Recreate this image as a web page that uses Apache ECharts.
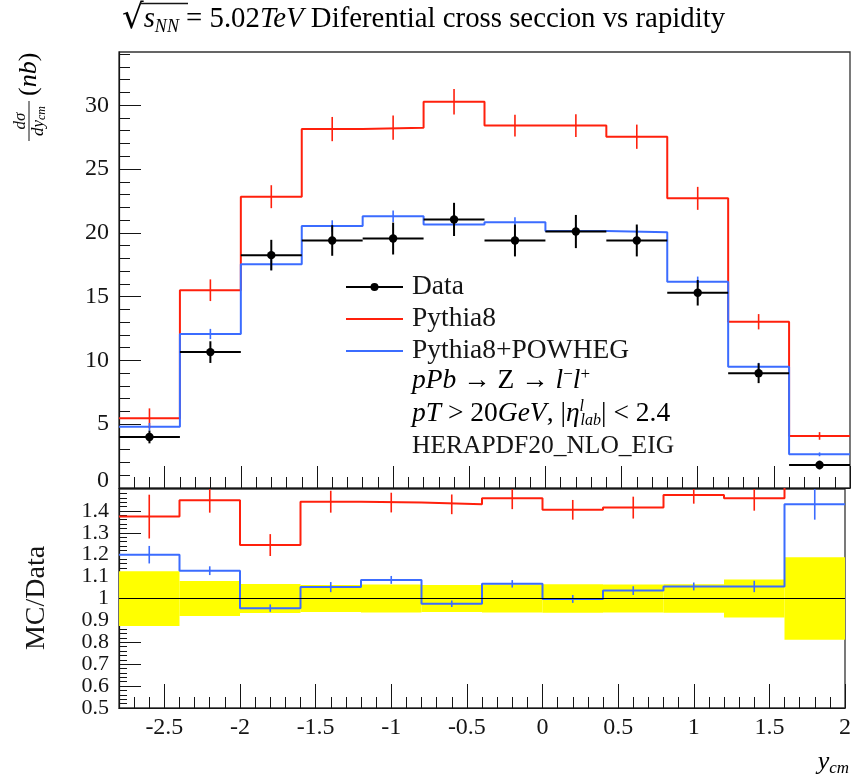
<!DOCTYPE html>
<html><head><meta charset="utf-8">
<script src="https://cdn.jsdelivr.net/npm/echarts@6/dist/echarts.min.js"></script>
<style>html,body{margin:0;padding:0;background:#fff}#c{width:854px;height:776px}</style>
</head><body><div id="c"></div>
<script>
// ---------------- data ----------------
const binEdges   = [-2.8,-2.4,-2.0,-1.6,-1.2,-0.8,-0.4,0.0,0.4,0.8,1.2,1.6,2.0];
const binCenters = [-2.6,-2.2,-1.8,-1.4,-1.0,-0.6,-0.2,0.2,0.6,1.0,1.4,1.8];

const dataVals = [4.0,10.65,18.25,19.4,19.55,21.05,19.4,20.1,19.4,15.3,9.0,1.8];
const dataErr  = [0.5,0.85,1.2,1.2,1.25,1.3,1.25,1.3,1.25,1.0,0.78,0.34];

const pythia8    = [5.46,15.5,22.83,28.13,28.24,30.28,28.4,28.4,27.53,22.7,13.03,4.08];
const pythia8Err = [0.78,0.85,0.9,0.95,0.95,1.0,0.85,0.9,0.95,0.9,0.6,0.3];

const powheg    = [4.8,12.07,17.53,20.53,21.3,20.66,20.82,20.14,20.04,16.17,9.51,2.64];
const powhegErr = [0.3,0.4,0.45,0.45,0.45,0.45,0.4,0.45,0.45,0.4,0.3,0.15];

const pythia8Ratio    = [1.374,1.449,1.244,1.442,1.438,1.43,1.458,1.405,1.415,1.473,1.458,2.27];
const pythia8RatioErr = [0.1,0.057,0.05,0.05,0.045,0.045,0.05,0.045,0.05,0.04,0.057,0.2];

const powhegRatio    = [1.2,1.127,0.956,1.052,1.085,0.976,1.067,0.998,1.036,1.055,1.055,1.43];
const powhegRatioErr = [0.04,0.02,0.017,0.023,0.018,0.015,0.017,0.018,0.02,0.018,0.026,0.07];

const xMajorTicks = [-2.5,-2,-1.5,-1,-0.5,0,0.5,1,1.5,2];
const yTopTicks   = [0,5,10,15,20,25,30];
const yRatioTicks = [0.5,0.6,0.7,0.8,0.9,1,1.1,1.2,1.3,1.4];

// ---------------- styling ----------------
const FONT = 'Liberation Serif';
const RED = '#ff200c', BLUE = '#3b6cff', INK = '#151515';

const xMinor = []; for (let k=-27;k<=19;k++){ if (k%5!==0) xMinor.push(k/10); }
const yTopMinor = []; for (let k=1;k<=34;k++){ if (k%5!==0) yTopMinor.push(k); }
const yRatioMinor = []; for (let k=26;k<=74;k++){ if (k%5!==0) yRatioMinor.push(k/50); }

function stepData(vals){ return binEdges.map((e,i)=>[e, vals[Math.min(i, vals.length-1)]]); }

function errBars(name, xi, yi, vals, errs, color){
  return {
    type:'custom', name, xAxisIndex:xi, yAxisIndex:yi, clip:true, z:4, silent:true,
    data: binCenters.map((c,i)=>[c, vals[i], errs[i]]),
    renderItem(params, api){
      const x=api.value(0), y=api.value(1), e=api.value(2);
      const p1=api.coord([x,y-e]), p2=api.coord([x,y+e]);
      return {type:'line', shape:{x1:p1[0],y1:p1[1],x2:p2[0],y2:p2[1]}, style:{stroke:color, lineWidth:1.6}};
    }
  };
}
function stepLine(name, xi, yi, vals, color){
  return {type:'line', name, xAxisIndex:xi, yAxisIndex:yi, step:'end', symbol:'none', clip:true, silent:true, z:3,
    data: stepData(vals), lineStyle:{color, width:2}, itemStyle:{color}};
}

function xAxes(grid, showLabel, tickLen){
  return [{
    type:'value', gridIndex:grid, min:-2.8, max:2.0, position:'bottom',
    axisLine:{show:true, onZero:false, lineStyle:{color:INK, width:1.2}},
    axisTick:{show:true, inside:true, length:tickLen, customValues:xMajorTicks, lineStyle:{color:INK, width:1}},
    axisLabel:{show:showLabel, customValues:xMajorTicks, fontFamily:FONT, fontSize:24, color:INK, margin:8,
      showMinLabel:true, showMaxLabel:true, hideOverlap:false, formatter: v => String(v)},
    splitLine:{show:false}
  },{
    type:'value', gridIndex:grid, min:-2.8, max:2.0, position:'bottom',
    axisLine:{show:false, onZero:false}, axisLabel:{show:false}, splitLine:{show:false},
    axisTick:{show:true, inside:true, length:11, customValues:xMinor, lineStyle:{color:INK, width:1}}
  }];
}
function yAxes(grid, min, max, major, minor, majorLen, minorLen, labelFmt, rich, fs, lh){
  return [{
    type:'value', gridIndex:grid, min, max, position:'left',
    axisLine:{show:true, onZero:false, lineStyle:{color:INK, width:1.2}},
    axisTick:{show:true, inside:true, length:majorLen, customValues:major, lineStyle:{color:INK}},
    axisLabel:{customValues:major, fontFamily:FONT, fontSize:fs, lineHeight:lh, color:INK, margin:10,
      showMinLabel:true, showMaxLabel:true, hideOverlap:false, formatter:labelFmt, rich},
    splitLine:{show:false}
  },{
    type:'value', gridIndex:grid, min, max, position:'left',
    axisLine:{show:false, onZero:false}, axisLabel:{show:false}, splitLine:{show:false},
    axisTick:{show:true, inside:true, length:minorLen, customValues:minor, lineStyle:{color:INK}}
  }];
}

const txt = (extra) => Object.assign({fontFamily:FONT, fontSize:27.5, color:INK, lineHeight:30}, extra||{});

const option = {
  animation:false,
  backgroundColor:'#fff',
  grid:[
    {left:119, right:4, top:52, height:436, show:true, borderColor:'#333', borderWidth:1.3, backgroundColor:'transparent'},
    {left:119, right:4, top:489, height:219, show:true, borderColor:'#333', borderWidth:1.3, backgroundColor:'transparent'}
  ],
  xAxis: [].concat(xAxes(0,false,22), xAxes(1,true,24)),
  yAxis: [].concat(
    yAxes(0, 0, 34.17, yTopTicks, yTopMinor, 22, 11,
      v => v===0 ? '{up|0}' : String(v),
      {up:{fontFamily:FONT, fontSize:24, color:INK, padding:[0,0,14,0]}}, 24, 24),
    yAxes(1, 0.5, 1.5, yRatioTicks, yRatioMinor, 22, 8, v => String(v), undefined, 22, 16)
  ),
  legend:{
    left:340, top:267, orient:'vertical', itemGap:2, itemWidth:57, itemHeight:10, selectedMode:false,
    textStyle:{fontFamily:FONT, fontSize:27.5, color:INK, lineHeight:30, padding:[0,0,0,4]},
    data:[
      {name:'Data'},
      {name:'Pythia8', itemStyle:{opacity:0}},
      {name:'Pythia8+POWHEG', itemStyle:{opacity:0}}
    ]
  },
  series:[
    // legend representative for Data (no data of its own)
    {type:'line', name:'Data', xAxisIndex:0, yAxisIndex:0, data:[], symbol:'circle',
      lineStyle:{color:'#000', width:2}, itemStyle:{color:'#000'}},
    stepLine('Pythia8', 0, 0, pythia8, RED),
    errBars('Pythia8', 0, 0, pythia8, pythia8Err, RED),
    stepLine('Pythia8+POWHEG', 0, 0, powheg, BLUE),
    errBars('Pythia8+POWHEG', 0, 0, powheg, powhegErr, BLUE),
    {
      type:'custom', name:'Data', xAxisIndex:0, yAxisIndex:0, z:6, silent:true, clip:true,
      data: binCenters.map((c,i)=>[c, dataVals[i], dataErr[i], binEdges[i], binEdges[i+1]]),
      renderItem(params, api){
        const x=api.value(0), y=api.value(1), e=api.value(2);
        const c=api.coord([x,y]);
        const l=api.coord([api.value(3), y]), r=api.coord([api.value(4), y]);
        const lo=api.coord([x, y-e]), hi=api.coord([x, y+e]);
        return {type:'group', children:[
          {type:'line', shape:{x1:l[0],y1:l[1],x2:r[0],y2:r[1]}, style:{stroke:'#000', lineWidth:2}},
          {type:'line', shape:{x1:lo[0],y1:lo[1],x2:hi[0],y2:hi[1]}, style:{stroke:'#000', lineWidth:2}},
          {type:'circle', shape:{cx:c[0], cy:c[1], r:4.2}, style:{fill:'#000'}}
        ]};
      }
    },
    // ratio panel
    {
      type:'custom', name:'Data uncertainty', xAxisIndex:2, yAxisIndex:2, z:1, silent:true, clip:true,
      data: binCenters.map((c,i)=>[binEdges[i], binEdges[i+1], dataErr[i]/dataVals[i]]),
      renderItem(params, api){
        const rel=api.value(2);
        const a=api.coord([api.value(0), 1+rel]), b=api.coord([api.value(1), 1-rel]);
        return {type:'rect', shape:{x:a[0], y:a[1], width:b[0]-a[0], height:b[1]-a[1]}, style:{fill:'#ffff00'}};
      },
      markLine:{silent:true, symbol:'none', label:{show:false}, animation:false,
        lineStyle:{color:'#000', width:1.2, type:'solid'}, data:[{yAxis:1}]}
    },
    stepLine('Pythia8', 2, 2, pythia8Ratio, RED),
    errBars('Pythia8', 2, 2, pythia8Ratio, pythia8RatioErr, RED),
    stepLine('Pythia8+POWHEG', 2, 2, powhegRatio, BLUE),
    errBars('Pythia8+POWHEG', 2, 2, powhegRatio, powhegRatioErr, BLUE)
  ],
  graphic:[
    // title
    {type:'text', x:122, y:19, silent:true, style:{
      text:'{sq|√}{i|s}{sub|NN}{r| = 5.02}{i|TeV}{r| Diferential cross seccion vs rapidity}',
      verticalAlign:'middle', align:'left',
      rich:{
        sq:txt({fontSize:34, fontFamily:'DejaVu Serif', lineHeight:34}), r:txt({fontSize:28.8}), i:txt({fontSize:28.8, fontStyle:'italic'}),
        sub:txt({fontSize:18, fontStyle:'italic', lineHeight:18, verticalAlign:'bottom'})
      }}},
    {type:'line', silent:true, shape:{x1:140, y1:3.5, x2:188, y2:3.5}, style:{stroke:INK, lineWidth:1.3}},
    // y axis title of top panel (rotated fraction)
    {type:'group', x:29, y:141, rotation:Math.PI/2, silent:true, children:[
      {type:'line', shape:{x1:0, y1:0, x2:40, y2:0}, style:{stroke:INK, lineWidth:1}},
      {type:'text', x:20, y:-8, style:{text:'dσ', fontFamily:FONT, fontStyle:'italic', fontSize:17, fill:INK, align:'center', verticalAlign:'middle'}},
      {type:'text', x:20, y:10, style:{text:'{i|dy}{s|cm}', align:'center', verticalAlign:'middle',
        rich:{i:{fontFamily:FONT, fontStyle:'italic', fontSize:17, color:INK, lineHeight:18},
              s:{fontFamily:FONT, fontStyle:'italic', fontSize:12, color:INK, lineHeight:12, verticalAlign:'bottom'}}}},
      {type:'text', x:45, y:0, style:{text:'{p|(}{i|nb}{p|)}', align:'left', verticalAlign:'middle',
        rich:{p:{fontFamily:FONT, fontSize:26, color:INK}, i:{fontFamily:FONT, fontStyle:'italic', fontSize:26, color:INK}}}}
    ]},
    // y axis title of ratio panel
    {type:'text', x:37, y:598, rotation:Math.PI/2, silent:true, style:{text:'MC/Data', fontFamily:FONT, fontSize:28, fill:INK, align:'center', verticalAlign:'middle'}},
    // x axis title
    {type:'text', x:849, y:762, silent:true, style:{text:'{i|y}{s|cm}', align:'right', verticalAlign:'middle',
      rich:{i:txt({fontStyle:'italic', fontSize:26}), s:txt({fontStyle:'italic', fontSize:17, lineHeight:17, verticalAlign:'bottom'})}}},
    // extra legend lines
    {type:'text', x:412, y:381, silent:true, style:{text:'{i|pPb}{r| → Z → }{i|l}{sup|−}{i|l}{sup|+}', verticalAlign:'middle', align:'left',
      rich:{r:txt(), i:txt({fontStyle:'italic'}), sup:txt({fontSize:17, lineHeight:17, verticalAlign:'top'})}}},
    {type:'text', x:412, y:414, silent:true, style:{text:'{i|pT}{r| > 20}{i|GeV}{r|, |}{i|η}{sup|l}{sub|lab}{r|| < 2.4}', verticalAlign:'middle', align:'left',
      rich:{r:txt(), i:txt({fontStyle:'italic'}), sup:txt({fontSize:16, fontStyle:'italic', lineHeight:16, verticalAlign:'top', width:1}),
            sub:txt({fontSize:16, fontStyle:'italic', lineHeight:16, verticalAlign:'bottom'})}}},
    {type:'text', x:412, y:446, silent:true, style:{text:'HERAPDF20_NLO_EIG', fontFamily:FONT, fontSize:25.5, fill:INK, verticalAlign:'middle', align:'left'}}
  ]
};

const chart = echarts.init(document.getElementById('c'), null, {renderer:'canvas'});
chart.setOption(option);
</script></body></html>
